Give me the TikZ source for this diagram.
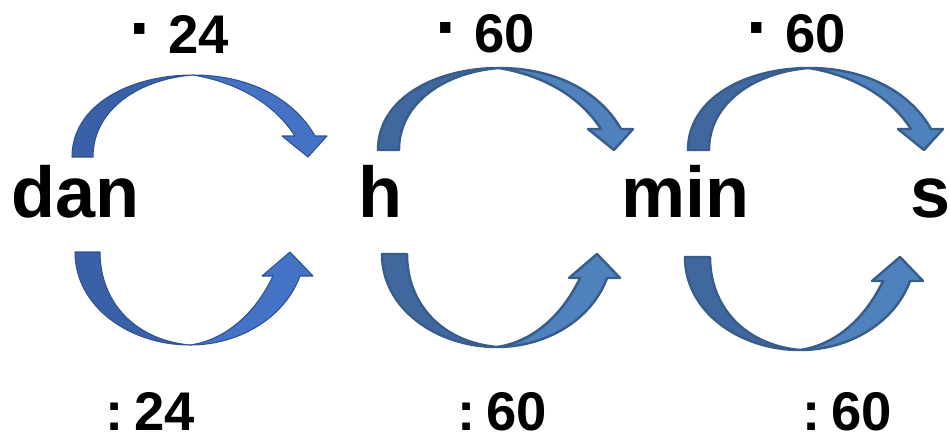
\documentclass[tikz,border=0pt]{standalone}
\usepackage{fontspec}
\setmainfont{Liberation Sans}
\definecolor{aDark}{RGB}{58,96,168}
\definecolor{aLight}{RGB}{68,114,196}
\definecolor{aLine}{RGB}{47,82,143}
\definecolor{bDark}{RGB}{65,104,158}
\definecolor{bLight}{RGB}{79,129,189}
\definecolor{bLine}{RGB}{56,93,138}
\newcommand\bigdot{\scalebox{1.35}{·}}
\tikzset{
  darkpart/.style={fill=aDark,draw=aLine,line width=0.6pt,line join=round},
  lightpart/.style={fill=aLight,draw=aLine,line width=0.6pt,line join=round},
  setB/.style={darkpart/.style={fill=bDark,draw=bLine,line width=1.4pt,line join=round},
               lightpart/.style={fill=bLight,draw=bLine,line width=1.4pt,line join=round}},
  bigword/.style={font=\bfseries\fontsize{41}{41}\selectfont,inner sep=0pt,outer sep=0pt,anchor=base west},
  oplabel/.style={font=\bfseries\fontsize{31}{31}\selectfont,inner sep=0pt,outer sep=0pt,anchor=base west},
  pics/toparr/.style={code={
    \path[darkpart] (0,0) .. controls (0,-52) and (58,-82) .. (121,-82)
       .. controls (68,-78) and (21,-48) .. (21,0) -- cycle;
    \path[lightpart] (121,-82) .. controls (178,-82) and (222,-58) .. (243,-21)
       -- (255,-21) -- (236,0) -- (210,-21) -- (223,-21)
       .. controls (203,-52) and (168,-74) .. (121,-82) -- cycle;
  }},
  pics/botarr/.style={code={
    \path[darkpart] (0,0) .. controls (0,55) and (55,93) .. (115,93)
       .. controls (60,88) and (25,50) .. (25,0) -- cycle;
    \path[lightpart] (115,93) .. controls (165,93) and (210,65) .. (225,24)
       -- (238,24) -- (215,0) -- (187,24) -- (198,24)
       .. controls (180,62) and (150,88) .. (115,93) -- cycle;
  }}
}
\begin{document}
\begin{tikzpicture}[x=0.02cm,y=-0.02cm]
\useasboundingbox (0,0) rectangle (950,434);
% arrows
\pic at (72,157) {toparr};
\pic at (75,252) {botarr};
\pic[setB] at (378,150) {toparr};
\pic[setB] at (382,254) {botarr};
\pic[setB] at (688,150) {toparr};
\pic[setB] at (685,257) {botarr};
% unit words
\node[bigword] (dan) at (11,217) {dan};
\node[bigword] (h) at (358,217) {h};
\node[bigword] (min) at (621,217) {min};
\node[bigword] (s) at (910,217) {s};
% operation labels
\node[oplabel] (m1) at (129,53) {\bigdot\ 24};
\node[oplabel] (m2) at (435,52) {\bigdot\ 60};
\node[oplabel] (m3) at (746,52) {\bigdot\ 60};
\node[oplabel] (d1) at (105,430) {:\hspace{6.5pt}24};
\node[oplabel] (d2) at (457,430) {:\hspace{6.5pt}60};
\node[oplabel] (d3) at (802,430) {:\hspace{6.5pt}60};
\end{tikzpicture}
\end{document}
